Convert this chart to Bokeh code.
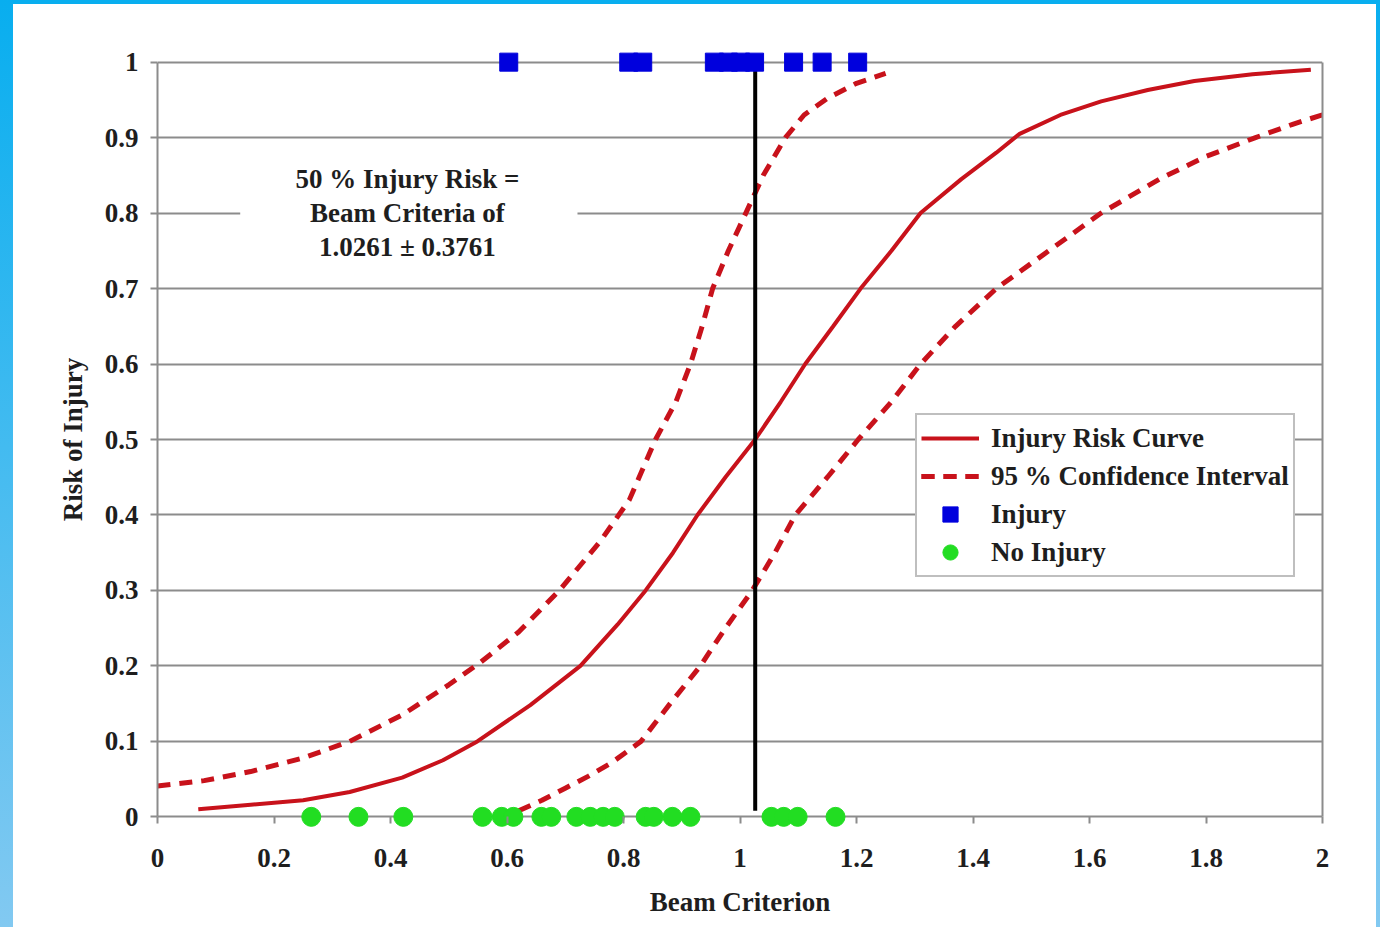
from bokeh.plotting import figure
from bokeh.models import (Range1d, FixedTicker, LinearAxis, Legend, LegendItem,
                          Label, BoxAnnotation, Spacer)
from bokeh.layouts import row, column
from bokeh.embed import file_html
from bokeh.resources import INLINE

# Injury risk curve (risk vs. beam criterion)
curve_x = [0.07, 0.16, 0.25, 0.33, 0.42, 0.49, 0.549, 0.64, 0.726, 0.79, 0.838, 0.885, 0.927,
           0.975, 1.026, 1.07, 1.112, 1.16, 1.207, 1.26, 1.31, 1.38, 1.44, 1.48, 1.55, 1.62,
           1.70, 1.78, 1.88, 1.98]
curve_y = [0.010, 0.016, 0.022, 0.033, 0.052, 0.075, 0.10, 0.148, 0.20, 0.255, 0.30, 0.35, 0.40,
           0.45, 0.50, 0.55, 0.60, 0.65, 0.70, 0.75, 0.80, 0.845, 0.88, 0.905, 0.93, 0.948,
           0.963, 0.975, 0.984, 0.99]

# 95 % confidence band, upper and lower bounds
upper_x = [0.0, 0.08, 0.16, 0.25, 0.33, 0.42, 0.50, 0.555, 0.62, 0.69, 0.76, 0.81, 0.855, 0.89,
           0.915, 0.935, 0.953, 0.98, 1.01, 1.04, 1.078, 1.11, 1.15, 1.20, 1.25]
upper_y = [0.041, 0.048, 0.060, 0.078, 0.10, 0.135, 0.175, 0.205, 0.245, 0.30, 0.365, 0.42, 0.50,
           0.55, 0.60, 0.65, 0.70, 0.75, 0.80, 0.85, 0.90, 0.93, 0.952, 0.972, 0.985]
lower_x = [0.62, 0.66, 0.70, 0.74, 0.78, 0.83, 0.88, 0.932, 0.975, 1.021, 1.06, 1.095, 1.15,
           1.203, 1.26, 1.31, 1.37, 1.44, 1.53, 1.62, 1.72, 1.80, 1.885, 1.95, 2.02]
lower_y = [0.008, 0.022, 0.038, 0.054, 0.072, 0.10, 0.15, 0.20, 0.25, 0.30, 0.35, 0.40, 0.45,
           0.50, 0.55, 0.60, 0.65, 0.70, 0.75, 0.80, 0.845, 0.875, 0.90, 0.918, 0.935]

# Observed cases
injury_x = [0.603, 0.809, 0.833, 0.956, 0.980, 1.001, 1.025, 1.092, 1.141, 1.202]
injury_y = [1] * len(injury_x)
no_injury_x = [0.264, 0.345, 0.422, 0.558, 0.591, 0.611, 0.659, 0.676, 0.719, 0.743, 0.765,
               0.785, 0.838, 0.852, 0.884, 0.915, 1.054, 1.075, 1.099, 1.164]
no_injury_y = [0] * len(no_injury_x)

# 50 % risk point
risk50_x = 1.0261
risk50_sd = 0.3761

x_ticks = [0, 0.2, 0.4, 0.6, 0.8, 1, 1.2, 1.4, 1.6, 1.8, 2]
x_tick_labels = ["0", "0.2", "0.4", "0.6", "0.8", "1", "1.2", "1.4", "1.6", "1.8", "2"]
y_ticks = [0, 0.1, 0.2, 0.3, 0.4, 0.5, 0.6, 0.7, 0.8, 0.9, 1]
y_tick_labels = ["0", "0.1", "0.2", "0.3", "0.4", "0.5", "0.6", "0.7", "0.8", "0.9", "1"]

FONT = "Liberation Serif"
RED = "#C8121B"
GRID = "#8c8c8c"
TEXT = "#1e1e1e"

p = figure(width=1363, height=923, output_backend="svg", toolbar_location=None,
           x_range=Range1d(0, 2), y_range=Range1d(-0.03, 1.03),
           min_border_left=144, min_border_right=54, min_border_top=35, min_border_bottom=88)
p.outline_line_color = None
p.background_fill_color = "white"
p.border_fill_color = "white"

# axes
p.xaxis.ticker = FixedTicker(ticks=x_ticks)
p.xaxis.major_label_overrides = dict(zip(x_ticks, x_tick_labels))
p.yaxis.ticker = FixedTicker(ticks=y_ticks)
p.yaxis.major_label_overrides = dict(zip(y_ticks, y_tick_labels))
p.xaxis.bounds = (0, 2)
p.yaxis.bounds = (0, 1)
for ax in (p.xaxis, p.yaxis):
    ax.axis_line_color = GRID
    ax.axis_line_width = 2
    ax.major_tick_line_color = GRID
    ax.major_tick_line_width = 2
    ax.minor_tick_line_color = None
    ax.major_label_text_font = FONT
    ax.major_label_text_font_style = "bold"
    ax.major_label_text_font_size = "27px"
    ax.major_label_text_color = TEXT
    ax.axis_label_text_font = FONT
    ax.axis_label_text_font_style = "bold"
    ax.axis_label_text_font_size = "27px"
    ax.axis_label_text_color = TEXT
p.yaxis.major_tick_in = 0
p.yaxis.major_tick_out = 7
# x-axis sits at the frame bottom; its ticks are pulled up to the y = 0 line
p.xaxis.axis_line_color = None
p.xaxis.major_tick_in = 23
p.xaxis.major_tick_out = -16
p.xaxis.minor_tick_in = 0
p.xaxis.minor_tick_out = -16
p.xaxis.major_label_standoff = 9
p.xaxis.axis_label_standoff = 17
p.xaxis.axis_label = "Beam Criterion"
p.yaxis.axis_label = "Risk of Injury"
p.yaxis.major_label_standoff = 12
p.yaxis.axis_label_standoff = 14

# right border of the plot area
right_ax = LinearAxis(bounds=(0, 1), axis_line_color=GRID, axis_line_width=2,
                      major_tick_line_color=None, minor_tick_line_color=None,
                      major_label_text_font_size="0px", ticker=FixedTicker(ticks=[]))
p.add_layout(right_ax, "right")

p.xgrid.visible = False
p.ygrid.ticker = FixedTicker(ticks=y_ticks)
p.ygrid.grid_line_color = GRID
p.ygrid.grid_line_width = 2

# annotation box
p.add_layout(BoxAnnotation(left=0.142, right=0.721, bottom=0.73, top=0.87,
                           fill_color="white", fill_alpha=1.0, line_color=None))
note_lines = ["50 % Injury Risk =", "Beam Criteria of", f"{risk50_x:.4f} \u00b1 {risk50_sd:.4f}"]
note_y = [0.845, 0.80, 0.755]
for txt, yy in zip(note_lines, note_y):
    p.add_layout(Label(x=0.429, y=yy, text=txt, text_align="center", text_baseline="middle",
                       text_font=FONT, text_font_style="bold", text_font_size="27px",
                       text_color=TEXT))

r_curve = p.line(curve_x, curve_y, line_color=RED, line_width=4)
r_up = p.line(upper_x, upper_y, line_color=RED, line_width=5, line_dash="13 9")
r_lo = p.line(lower_x, lower_y, line_color=RED, line_width=5, line_dash="13 9")
p.segment(x0=[risk50_x], y0=[0.008], x1=[risk50_x], y1=[1.0], line_color="black", line_width=4)
r_inj = p.scatter(injury_x, injury_y, marker="square", size=18, fill_color="#0000DD",
                  line_color="#0000DD")
r_no = p.scatter(no_injury_x, no_injury_y, marker="circle", size=19, fill_color="#22DD22",
                 line_color="#22DD22")

legend = Legend(items=[
    LegendItem(label="Injury Risk Curve", renderers=[r_curve]),
    LegendItem(label="95 % Confidence Interval", renderers=[r_up, r_lo]),
    LegendItem(label="Injury", renderers=[r_inj]),
    LegendItem(label="No Injury", renderers=[r_no]),
], location=(758, 262))
legend.label_text_font = FONT
legend.label_text_font_style = "bold"
legend.label_text_font_size = "27px"
legend.label_text_color = TEXT
legend.glyph_width = 58
legend.glyph_height = 38
legend.label_height = 38
legend.label_standoff = 12
legend.spacing = 0
legend.padding = 4
legend.margin = 0
legend.border_line_color = "#808080"
legend.border_line_width = 2
legend.background_fill_color = "white"
legend.background_fill_alpha = 1.0
p.add_layout(legend, "center")

# page frame strips
left_strip = Spacer(width=13, height=927,
                    styles={"background": "linear-gradient(#08AEEF, #82C9F1)"})
top_strip = Spacer(width=1363, height=4, styles={"background": "#08AEEF"})
right_strip = Spacer(width=4, height=927,
                     styles={"background": "linear-gradient(#08AEEF, #82C9F1)"})
page = row(left_strip, column(top_strip, p), right_strip)

open("out.html", "w").write(file_html(page, INLINE))
